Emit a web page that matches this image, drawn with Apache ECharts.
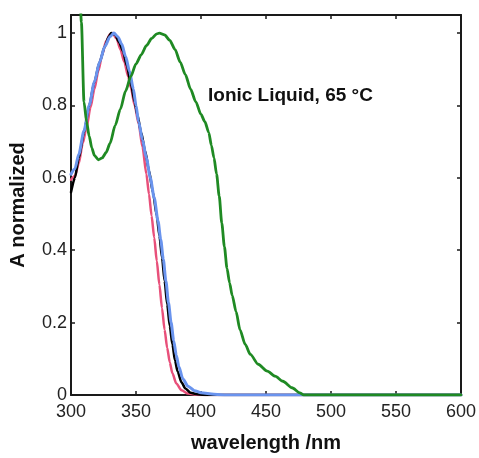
<!DOCTYPE html>
<html>
<head>
<meta charset="utf-8">
<script src="https://cdn.jsdelivr.net/npm/echarts@6/dist/echarts.min.js"></script>
<style>
html,body{margin:0;padding:0;background:#fff;}
#chart{width:479px;height:458px;}
</style>
</head>
<body>
<div id="chart"></div>
<script>
// wavelength (nm), normalized absorbance
const blackWl = [300,303,306,310,314,318,322,326,329,331,334,337,340,343,346,349,351,354,357,360,363,366,368,370,372,374,376,378,380,382,385,388,392,397,405,600];
const blackA  = [0.56,0.60,0.655,0.725,0.80,0.865,0.92,0.963,0.99,1.0,0.995,0.975,0.95,0.91,0.86,0.81,0.775,0.725,0.675,0.62,0.56,0.495,0.44,0.38,0.315,0.25,0.19,0.14,0.095,0.065,0.035,0.018,0.006,0.002,0,0];

const blueWl = [300,303,306,310,314,318,322,326,330,333,336,339,342,345,348,350,352,355,358,361,364,367,369,371,373,375,377,379,381,383,386,390,395,400,410,420,600];
const blueA  = [0.61,0.625,0.665,0.73,0.80,0.865,0.92,0.963,0.99,1.0,0.99,0.97,0.935,0.895,0.845,0.80,0.755,0.705,0.655,0.60,0.545,0.48,0.43,0.375,0.315,0.255,0.2,0.15,0.11,0.078,0.045,0.024,0.012,0.006,0.002,0,0];

const pinkWl = [300,303,306,309,312,315,318,321,324,327,330,332,335,338,341,344,346,349,352,355,358,360,362,364,366,368,370,372,374,376,378,381,385,390,398,600];
const pinkA  = [0.595,0.605,0.64,0.695,0.74,0.795,0.845,0.895,0.94,0.978,0.997,1.0,0.985,0.955,0.92,0.88,0.85,0.80,0.75,0.685,0.61,0.555,0.495,0.435,0.37,0.305,0.24,0.18,0.13,0.09,0.06,0.032,0.013,0.004,0,0];

const greenWl = [305,306,308,310,312,314,316,318,321,324,327,330,334,338,342,346,350,354,358,362,366,368,372,376,380,384,388,392,396,400,403,406,408,410,412,414,416,418,420,422,424,427,430,434,438,444,451,457,463,470,476,479,600];
const greenA  = [1.3,1.2,1.03,0.81,0.755,0.715,0.683,0.662,0.65,0.655,0.67,0.695,0.745,0.79,0.84,0.88,0.915,0.94,0.965,0.985,0.998,1.0,0.995,0.98,0.955,0.92,0.885,0.845,0.81,0.775,0.755,0.725,0.69,0.655,0.61,0.55,0.475,0.41,0.35,0.31,0.275,0.23,0.18,0.14,0.112,0.085,0.066,0.052,0.038,0.02,0.006,0,0];

const xTicks = [300,350,400,450,500,550,600];
const yTicks = [0,0.2,0.4,0.6,0.8,1];
const annotation = 'Ionic Liquid, 65 \u00B0C';

const pair = (xs, ys) => xs.map((x, i) => [x, ys[i]]);

const frameColor = '#1a1a1a';
const labelFont = {color:'#222', fontSize:18, fontFamily:'Liberation Sans, Arial, sans-serif'};

const chart = echarts.init(document.getElementById('chart'), null, {renderer:'canvas'});

function line(name, xs, ys, color, width, z) {
  return {name, type:'line', data: pair(xs, ys), showSymbol:false, symbol:'none',
    smooth:0.25, smoothMonotone:'x',
    lineStyle:{color, width, join:'round', cap:'round'}, z, clip:true, animation:false};
}

chart.setOption({
  animation:false,
  backgroundColor:'#fff',
  grid:{left:70, right:18, top:15, bottom:62, containLabel:false},
  xAxis:[{
    type:'value', min:xTicks[0], max:xTicks[xTicks.length-1], interval:50,
    axisLine:{show:true, onZero:false, lineStyle:{color:frameColor, width:2}},
    axisTick:{show:true, inside:true, length:4, lineStyle:{color:frameColor, width:1.5}},
    axisLabel:Object.assign({margin:8}, labelFont),
    splitLine:{show:false},
    name:'wavelength /nm', nameLocation:'middle', nameGap:38,
    nameTextStyle:{color:'#111', fontSize:20, fontWeight:'bold', fontFamily:'Liberation Sans, Arial, sans-serif'}
  },{
    type:'value', position:'top', min:xTicks[0], max:xTicks[xTicks.length-1], interval:50,
    axisLine:{show:true, onZero:false, lineStyle:{color:frameColor, width:2}},
    axisTick:{show:true, inside:true, length:4, lineStyle:{color:frameColor, width:1.5}},
    axisLabel:{show:false}, splitLine:{show:false}
  }],
  yAxis:[{
    type:'value', min:0, max:1.05, interval:0.2,
    axisLine:{show:true, onZero:false, lineStyle:{color:frameColor, width:2}},
    axisTick:{show:true, inside:true, length:4, lineStyle:{color:frameColor, width:1.5}},
    axisLabel:Object.assign({margin:4, showMaxLabel:false,
      formatter: v => { const t = yTicks.find(k => Math.abs(k - v) < 1e-6); return t === undefined ? '' : String(t); }
    }, labelFont),
    splitLine:{show:false},
    name:'A normalized', nameLocation:'middle', nameGap:43, nameRotate:90,
    nameTextStyle:{color:'#111', fontSize:20, fontWeight:'bold', fontFamily:'Liberation Sans, Arial, sans-serif'}
  },{
    type:'value', position:'right', min:0, max:1.05, interval:0.2,
    axisLine:{show:true, onZero:false, lineStyle:{color:frameColor, width:2}},
    axisTick:{show:true, inside:true, length:4, lineStyle:{color:frameColor, width:1.5}},
    axisLabel:{show:false}, splitLine:{show:false}
  }],
  graphic:[{
    type:'text', left:208, top:86, z:10,
    style:{text:annotation, fill:'#111', font:'bold 19px "Liberation Sans", Arial, sans-serif'}
  }],
  series:[
    line('black', blackWl, blackA, '#000000', 2.5, 3),
    line('pink', pinkWl, pinkA, '#e8507a', 2.5, 2),
    line('blue', blueWl, blueA, '#6a94ee', 3, 4),
    line('green', greenWl, greenA, '#1f8a23', 2.8, 5)
  ]
});
</script>
</body>
</html>
